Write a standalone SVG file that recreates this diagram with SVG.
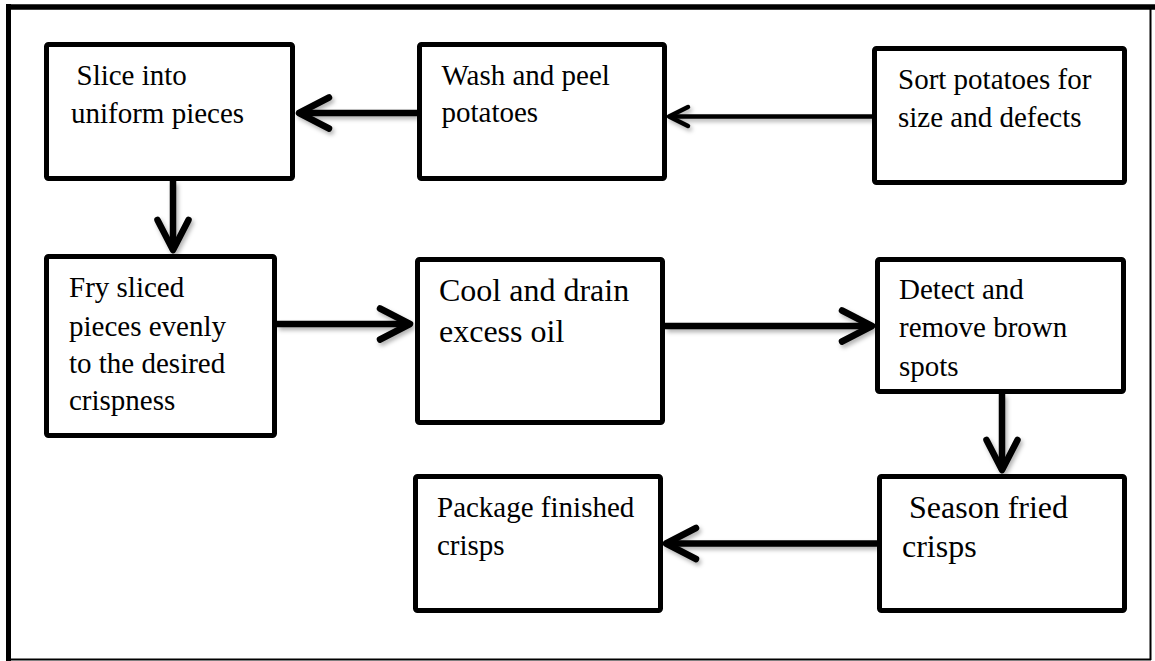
<svg xmlns="http://www.w3.org/2000/svg" width="1155" height="661" viewBox="0 0 1155 661">
<style>
.box{fill:#fff;stroke:#000;stroke-width:5;}
.t{font-family:"Liberation Serif","Times New Roman",serif;font-size:29px;fill:#000;}
.tl{font-size:32px;}
.conn{fill:none;stroke:#000;stroke-width:6.5;}
.thin{stroke-width:4.5;}
</style>
<defs>
<filter id="sh" filterUnits="userSpaceOnUse" x="0" y="0" width="1155" height="661">
<feDropShadow dx="2" dy="3" stdDeviation="2" flood-color="#000" flood-opacity="0.3"/>
</filter>
<marker id="chev" viewBox="-40 -22 46 44" markerWidth="46" markerHeight="44" refX="0" refY="0" orient="auto" markerUnits="userSpaceOnUse">
<path d="M-30,-15.5 L0,0 L-30,15.5" fill="none" stroke="#000" stroke-width="6.5" stroke-linecap="round" stroke-linejoin="round"/>
</marker>
<marker id="chevs" viewBox="-28 -16 34 32" markerWidth="34" markerHeight="32" refX="0" refY="0" orient="auto" markerUnits="userSpaceOnUse">
<path d="M-19,-9.5 L0,0 L-19,9.5" fill="none" stroke="#000" stroke-width="4.5" stroke-linecap="round" stroke-linejoin="round"/>
</marker>
</defs>
<rect width="1155" height="661" fill="#fff"/>
<g id="frame">
<line x1="6" y1="7" x2="1155" y2="7" stroke="#000" stroke-width="5.5"/>
<line x1="8.5" y1="4" x2="8.5" y2="661" stroke="#000" stroke-width="5"/>
<line x1="8" y1="659.5" x2="1151" y2="659.5" stroke="#000" stroke-width="2"/>
<line x1="1150.5" y1="7" x2="1150.5" y2="660" stroke="#000" stroke-width="2"/>
</g>
<g id="connectors" filter="url(#sh)">
<line class="conn thin" x1="872" y1="116.5" x2="669" y2="116.5" marker-end="url(#chevs)"/>
<line class="conn" x1="417" y1="113" x2="299" y2="113" marker-end="url(#chev)"/>
<line class="conn" x1="173" y1="181" x2="173" y2="250" marker-end="url(#chev)"/>
<line class="conn" x1="277" y1="324" x2="410" y2="324" marker-end="url(#chev)"/>
<line class="conn" x1="665" y1="326" x2="872" y2="326" marker-end="url(#chev)"/>
<line class="conn" x1="1002" y1="394" x2="1002" y2="470" marker-end="url(#chev)"/>
<line class="conn" x1="877" y1="543.5" x2="666" y2="543.5" marker-end="url(#chev)"/>
</g>
<g id="slice">
<rect class="box" x="46.5" y="44.5" width="246" height="134" rx="2"/>
<text class="t" x="76.5" y="85">Slice into</text>
<text class="t" x="71" y="123">uniform pieces</text>
</g>
<g id="wash">
<rect class="box" x="419.5" y="44.5" width="245" height="134" rx="2"/>
<text class="t" x="441.5" y="85">Wash and peel</text>
<text class="t" x="441.5" y="122">potatoes</text>
</g>
<g id="sort">
<rect class="box" x="874.5" y="48.5" width="250" height="134" rx="2"/>
<text class="t" x="898" y="89">Sort potatoes for</text>
<text class="t" x="898" y="127">size and defects</text>
</g>
<g id="fry">
<rect class="box" x="46.5" y="256.5" width="228" height="179" rx="2"/>
<text class="t" x="69" y="297">Fry sliced</text>
<text class="t" x="69" y="336">pieces evenly</text>
<text class="t" x="69" y="373">to the desired</text>
<text class="t" x="69" y="410">crispness</text>
</g>
<g id="cool">
<rect class="box" x="417.5" y="259.5" width="245" height="163" rx="2"/>
<text class="t tl" x="439" y="301">Cool and drain</text>
<text class="t tl" x="439" y="342">excess oil</text>
</g>
<g id="detect">
<rect class="box" x="877.5" y="259.5" width="246" height="132" rx="2"/>
<text class="t" x="899" y="299">Detect and</text>
<text class="t" x="899" y="337">remove brown</text>
<text class="t" x="899" y="376">spots</text>
</g>
<g id="season">
<rect class="box" x="879.5" y="476.5" width="245" height="134" rx="2"/>
<text class="t tl" x="909" y="518">Season fried</text>
<text class="t tl" x="902" y="557">crisps</text>
</g>
<g id="package">
<rect class="box" x="415.5" y="476.5" width="245" height="134" rx="2"/>
<text class="t" x="437" y="517">Package finished</text>
<text class="t" x="437" y="555">crisps</text>
</g>
</svg>
